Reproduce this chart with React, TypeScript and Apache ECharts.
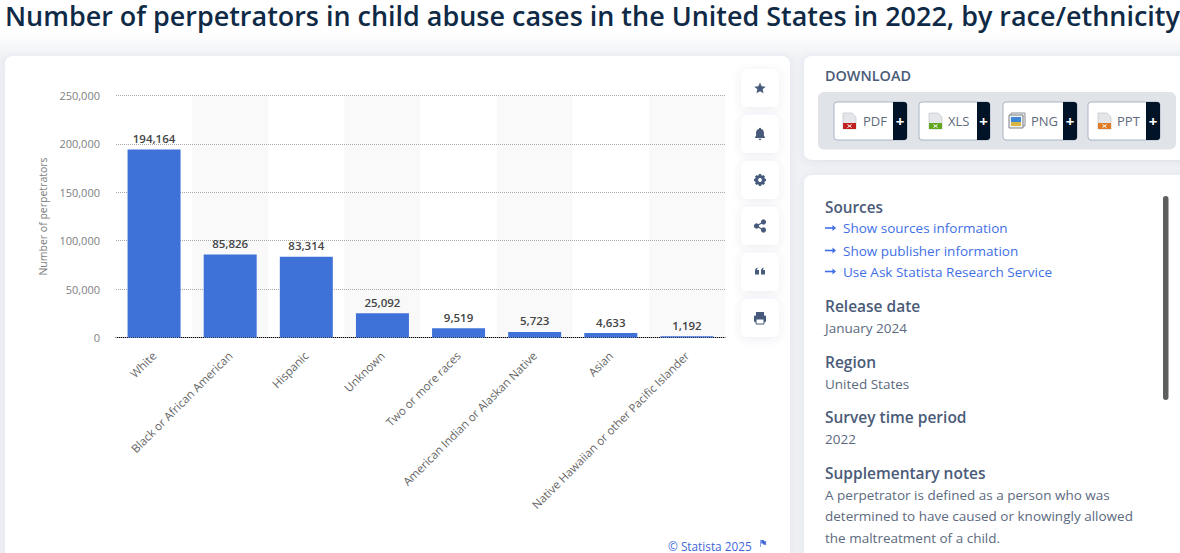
import React, { useEffect, useRef } from "react";
import * as echarts from "echarts";

const categories = [
  "White",
  "Black or African American",
  "Hispanic",
  "Unknown",
  "Two or more races",
  "American Indian or Alaskan Native",
  "Asian",
  "Native Hawaiian or other Pacific Islander",
];
const perpetrators = [194164, 85826, 83314, 25092, 9519, 5723, 4633, 1192];
const titleText = "Number of perpetrators in child abuse cases in the United States in 2022, by race/ethnicity";
const axisName = "Number of perpetrators";
const downloadButtons = ["PDF", "XLS", "PNG", "PPT"];
const sourceLinks = ["Show sources information", "Show publisher information", "Use Ask Statista Research Service"];
const noteLines = [
  "A perpetrator is defined as a person who was",
  "determined to have caused or knowingly allowed",
  "the maltreatment of a child.",
];

const FONT = '"Open Sans", "Noto Sans", sans-serif';
const HEAD = "#4a5b78";
const BODY = "#5c6a80";
const LINK = "#3f6fe6";
const ICON = "#475a7c";
const PAGE = "#f0f2f6";

echarts.graphic.registerShape("starIcon", echarts.graphic.extendPath("M12 2l3 6.9 7.5.7-5.7 4.9 1.7 7.3-6.5-3.9-6.5 3.9 1.7-7.3-5.7-4.9 7.5-.7z", {}));
echarts.graphic.registerShape("bellIcon", echarts.graphic.extendPath("M12 1a2 2 0 0 1 2 2 7 7 0 0 1 5 7v5l2 3v1H3v-1l2-3v-5a7 7 0 0 1 5-7 2 2 0 0 1 2-2zM9.5 20.5h5a2.5 2.5 0 0 1-5 0z", {}));
echarts.graphic.registerShape("quoteIcon", echarts.graphic.extendPath("M2 12c0-4 2-6 5-7v3c-1 .5-1.500 1-1.500 2H10v9H2zM14 12c0-4 2-6 5-7v3c-1 .5-1.500 1-1.500 2H22v9h-8z", {}));
echarts.graphic.registerShape("flagIcon", echarts.graphic.extendPath("M1 0h1v12H1zM3 0h4l1 2h4l-1.500 3 1.500 3H7L6 6H3z", {}));

const txt = (text: string, x: number, y: number, fontSize: number, fill: string, fontWeight: number | string = 400, align = "left") => ({
  type: "text",
  x,
  y,
  z: 5,
  silent: true,
  style: { text, fontSize, fontFamily: FONT, fontWeight, fill, align, verticalAlign: "middle" },
});

const panel = (x: number, y: number, width: number, height: number, z = -20, fill = "#ffffff", r = 8, shadow = 8) => ({
  type: "rect",
  z,
  silent: true,
  shape: { x, y, width, height, r },
  style: { fill, shadowBlur: shadow, shadowColor: shadow ? "rgba(70,85,120,0.10)" : "transparent", shadowOffsetY: shadow ? 2 : 0 },
});

const rect = (x: number, y: number, width: number, height: number, fill: any, z = 5, r: number | number[] = 0, stroke?: string) => ({
  type: "rect",
  z,
  silent: true,
  shape: { x, y, width, height, r },
  style: { fill, stroke, lineWidth: stroke ? 1 : 0 },
});

const glyph = (type: string, cx: number, cy: number, size: number, fill = ICON) => ({
  type,
  x: cx - size / 2,
  y: cy - size / 2,
  scaleX: size / 24,
  scaleY: size / 24,
  z: 6,
  silent: true,
  style: { fill },
});

function gear(cx: number, cy: number) {
  const teeth = [0, 1, 2, 3, 4, 5, 6, 7].map((i) => {
    const a = (i * Math.PI) / 4;
    return {
      type: "line",
      z: 6,
      silent: true,
      shape: { x1: cx + 4 * Math.cos(a), y1: cy + 4 * Math.sin(a), x2: cx + 6 * Math.cos(a), y2: cy + 6 * Math.sin(a) },
      style: { stroke: ICON, lineWidth: 2.4 },
    };
  });
  return [{ type: "ring", z: 6, silent: true, shape: { cx, cy, r: 5, r0: 1.9 }, style: { fill: ICON } }, ...teeth];
}

function share(cx: number, cy: number) {
  const pts = [[cx + 3.5, cy - 4], [cx - 3.5, cy], [cx + 3.5, cy + 4]];
  return [
    { type: "polyline", z: 6, silent: true, shape: { points: pts }, style: { stroke: ICON, lineWidth: 1.3, fill: "none" } },
    ...pts.map(([x, y]) => ({ type: "circle", z: 6, silent: true, shape: { cx: x, cy: y, r: 2.6 }, style: { fill: ICON } })),
  ];
}

function printer(cx: number, cy: number) {
  return [
    rect(cx - 4, cy - 6, 8, 4, ICON, 6),
    rect(cx - 6, cy - 2.500, 12, 6.500, ICON, 6, 1),
    rect(cx - 4, cy + 1, 8, 5, "#ffffff", 7, 0, ICON),
  ];
}

function fileIcon(x: number, y: number, color: string) {
  return [
    { type: "polygon", z: 6, silent: true, shape: { points: [[x, y], [x + 9, y], [x + 13, y + 4], [x + 13, y + 16], [x, y + 16]] }, style: { fill: "#e4e6e9", stroke: "#b8bcc2", lineWidth: 0.6 } },
    rect(x, y + 10, 13, 6, color, 7),
    { type: "line", z: 8, silent: true, shape: { x1: x + 4.5, y1: y + 14.5, x2: x + 8.5, y2: y + 11.5 }, style: { stroke: "#ffffff", lineWidth: 1 } },
    { type: "line", z: 8, silent: true, shape: { x1: x + 4.5, y1: y + 11.5, x2: x + 8.5, y2: y + 14.5 }, style: { stroke: "#ffffff", lineWidth: 1 } },
  ];
}

function pngIcon(x: number, y: number) {
  return [
    rect(x + 2, y, 14, 13, "#f3f4f5", 6, 0, "#8d9197"),
    rect(x, y + 2, 14, 13, "#f3f4f5", 7, 0, "#7a7e84"),
    rect(x + 2, y + 4, 10, 5, "#3f86d6", 8),
    rect(x + 2, y + 9, 10, 4, "#d9b544", 8),
  ];
}

function arrow(x: number, y: number) {
  return [
    { type: "line", z: 6, silent: true, shape: { x1: x, y1: y, x2: x + 9, y2: y }, style: { stroke: LINK, lineWidth: 1.6 } },
    { type: "polygon", z: 6, silent: true, shape: { points: [[x + 7.5, y - 3], [x + 11, y], [x + 7.5, y + 3]] }, style: { fill: LINK } },
  ];
}

function buildGraphics() {
  const toolbarY = [69, 115, 161, 207, 253, 299];
  const btnX = [834, 919, 1003, 1088];
  const btnEnd = [907, 990, 1077, 1160];
  const darkX = [893, 977, 1063, 1146];
  const labelX = [863, 948, 1031, 1117];
  const colors = ["#c02020", "#62a81e", "", "#e07a25"];
  const iconX = [843, 929, 1009, 1098];
  const headGradient = new echarts.graphic.LinearGradient(0, 0, 0, 1, [
    { offset: 0, color: "#ffffff" },
    { offset: 0.55, color: "#ffffff" },
    { offset: 1, color: "#f2f3f6" },
  ]);
  const els: any[] = [
    rect(0, 0, 1180, 56, headGradient, -30),
    panel(5, 56, 785, 520),
    panel(804, 56, 400, 104),
    panel(804, 175, 400, 400),
    txt(titleText, 5, 15.5, 26.95, "#0f2a46", 600),
    txt("DOWNLOAD", 825, 75.5, 14.4, HEAD, 600),
    rect(818, 92, 358, 57.5, "#e0e3e7", 3, 6),
    txt("© Statista 2025", 668, 545.500, 11.8, "#3f66d8"),
    glyph("flagIcon", 766.5, 547, 14, "#3f66d8"),
    rect(1163, 196, 5.500, 204, "#5c5f5d", 5, 3),
  ];
  toolbarY.forEach((y) => els.push(panel(741, y, 38, 38, 3, "#ffffff", 6, 10)));
  const cx = 760;
  els.push(glyph("starIcon", cx, 88, 13));
  els.push(glyph("bellIcon", cx, 134, 13.500));
  els.push(...gear(cx, 180));
  els.push(...share(cx, 226));
  els.push(glyph("quoteIcon", cx, 271, 12));
  els.push(...printer(cx, 318));

  downloadButtons.forEach((label, i) => {
    els.push(rect(btnX[i], 102, btnEnd[i] - btnX[i], 38, "#ffffff", 4, 3, "#a9b4c8"));
    els.push(rect(darkX[i], 102, btnEnd[i] - darkX[i], 38, "#001327", 5, [0, 3, 3, 0]));
    els.push(txt("+", (darkX[i] + btnEnd[i]) / 2, 120.500, 15, "#ffffff", 700, "center"));
    els.push(txt(label, labelX[i], 121, 13, "#5f6b7d", 500));
    if (label === "PNG") els.push(...pngIcon(iconX[i], 113));
    else els.push(...fileIcon(iconX[i], 113, colors[i]));
  });

  els.push(txt("Sources", 825, 207, 15.3, HEAD, 600));
  sourceLinks.forEach((s, i) => {
    const y = [228, 250.5, 271.5][i];
    els.push(...arrow(825, y));
    els.push(txt(s, 843, y, 13.5, LINK));
  });
  els.push(txt("Release date", 825, 306, 15.5, HEAD, 600));
  els.push(txt("January 2024", 825, 327.5, 13.5, BODY));
  els.push(txt("Region", 825, 362, 15.5, HEAD, 600));
  els.push(txt("United States", 825, 383.5, 13.5, BODY));
  els.push(txt("Survey time period", 825, 417, 15.5, HEAD, 600));
  els.push(txt("2022", 825, 438.5, 13.5, BODY));
  els.push(txt("Supplementary notes", 825, 473, 15.5, HEAD, 600));
  noteLines.forEach((s, i) => els.push(txt(s, 825, 494.5 + i * 21.500, 13.5, BODY)));
  return els;
}

export default function App() {
  const ref = useRef<HTMLDivElement>(null);
  useEffect(() => {
    document.body.style.margin = "0";
    document.body.style.overflow = "hidden";
    const chart = echarts.init(ref.current!, undefined, { renderer: "svg" });
    chart.setOption({
      animation: false,
      backgroundColor: PAGE,
      textStyle: { fontFamily: FONT },
      grid: { left: 116, right: 455, top: 95.5, bottom: 215.500, containLabel: false },
      graphic: { elements: buildGraphics() },
      xAxis: {
        type: "category",
        data: categories,
        axisTick: { show: false },
        axisLine: { lineStyle: { color: "#000000", width: 1 } },
        splitArea: { show: true, areaStyle: { color: ["#ffffff", "#f9f9f9"] } },
        axisLabel: { rotate: 45, interval: 0, fontSize: 11.5, color: "#666666", fontFamily: FONT, margin: 16, hideOverlap: false },
      },
      yAxis: {
        type: "value",
        z: 1,
        min: 0,
        max: 250000,
        interval: 50000,
        name: axisName,
        nameLocation: "middle",
        nameGap: 62,
        nameTextStyle: { fontSize: 10.5, color: "#7d7d7d", fontFamily: FONT },
        axisLine: { show: false },
        axisTick: { show: false },
        splitLine: { lineStyle: { type: [1, 1], color: "#aaaaaa", width: 1 } },
        axisLabel: {
          fontSize: 11,
          color: "#808080",
          fontFamily: FONT,
          margin: 16,
          formatter: (v: number) => v.toLocaleString("en-US"),
        },
      },
      series: [
        {
          type: "bar",
          z: 4,
          data: perpetrators,
          barWidth: 53,
          barCategoryGap: undefined,
          itemStyle: { color: "#3f72d9" },
          label: {
            show: true,
            position: "top",
            distance: 5,
            fontSize: 11.5,
            fontWeight: 600,
            color: "#454545",
            fontFamily: FONT,
            formatter: (p: any) => Number(p.value).toLocaleString("en-US"),
          },
        },
      ],
    });
    return () => chart.dispose();
  }, []);
  return <div ref={ref} style={{ position: "absolute", left: 0, top: 0, width: 1180, height: 553 }} />;
}
